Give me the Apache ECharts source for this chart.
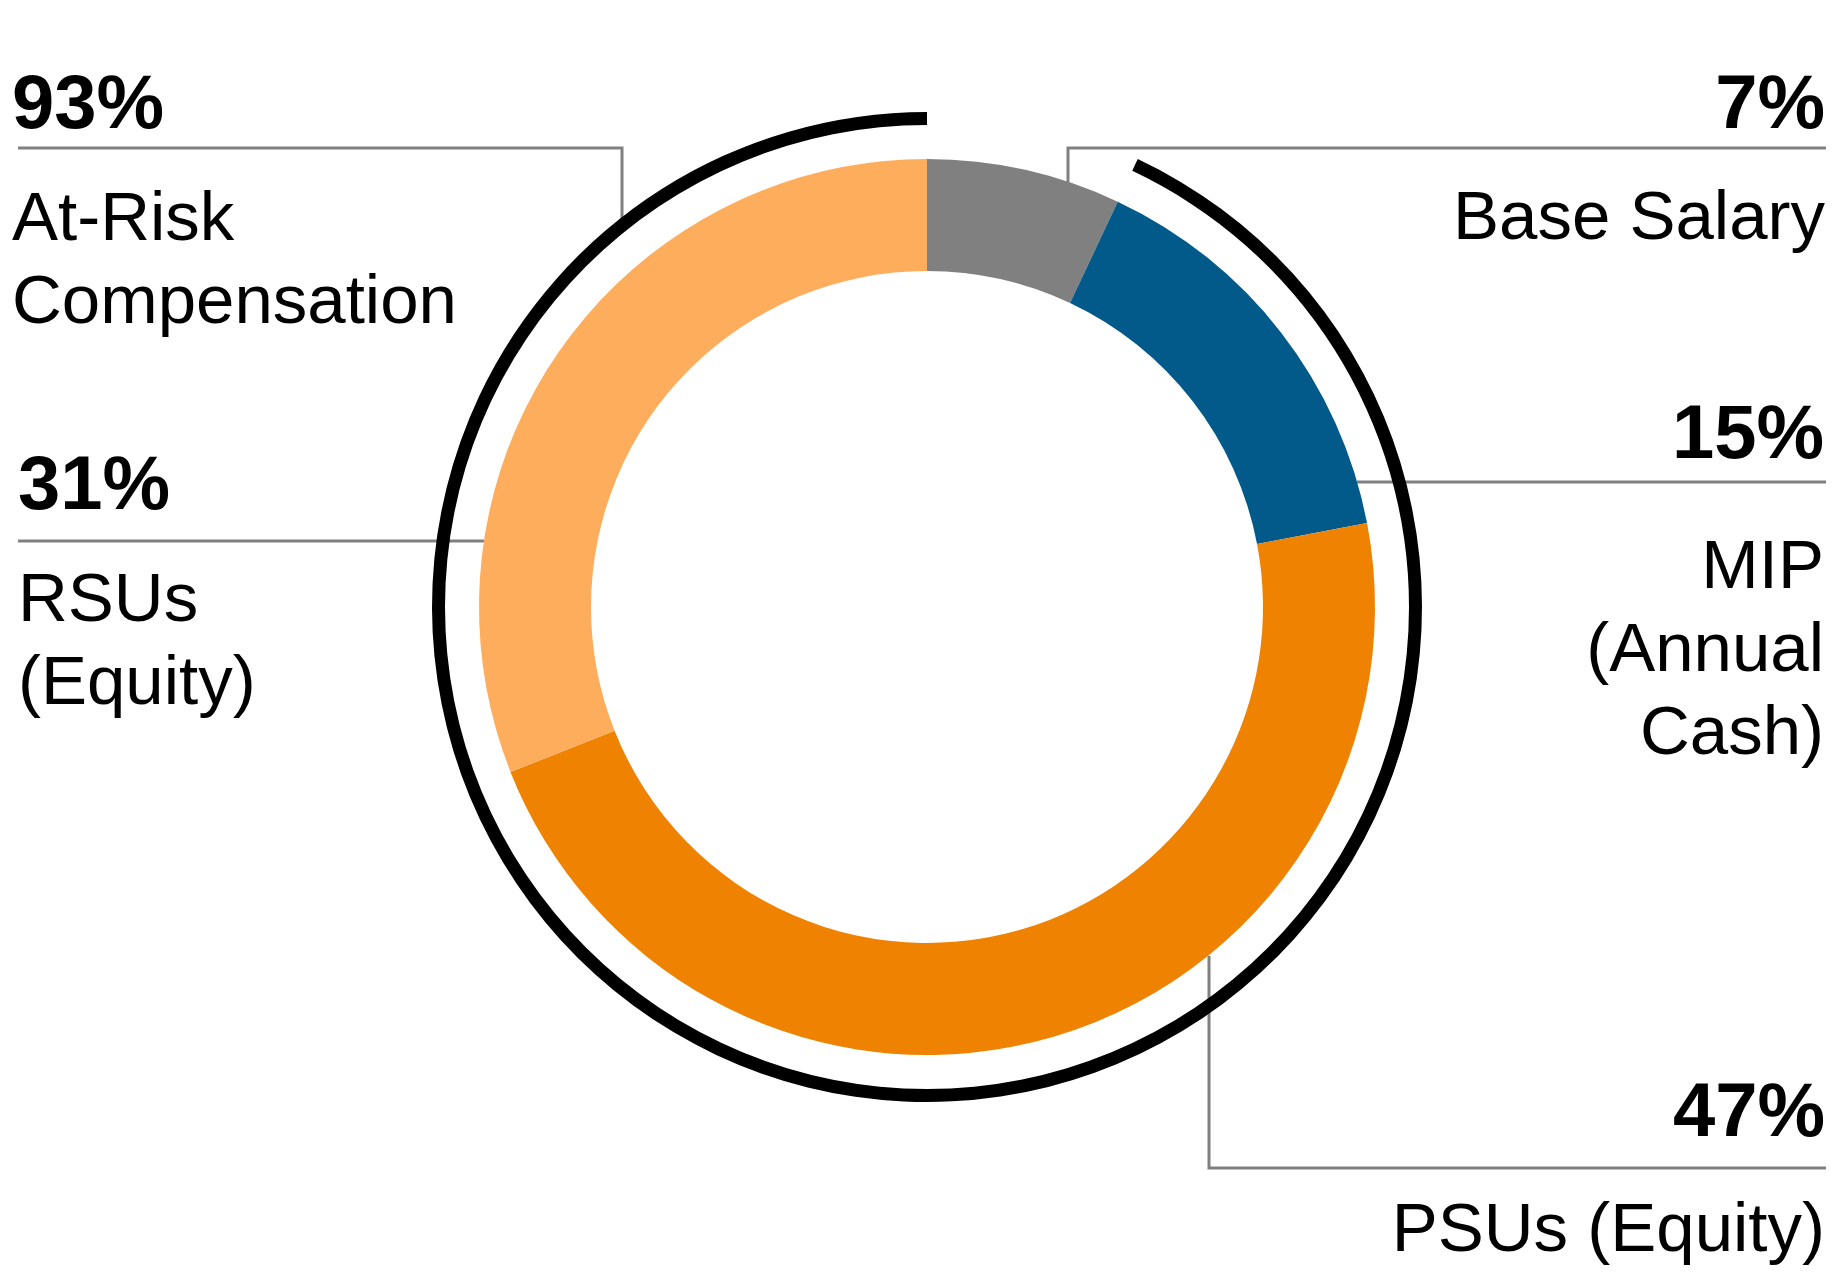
<!DOCTYPE html>
<html><head><meta charset="utf-8">
<script src="https://cdn.jsdelivr.net/npm/echarts@6/dist/echarts.min.js"></script>
<style>html,body{margin:0;padding:0;background:#fff}#chart{width:1840px;height:1275px}</style>
</head><body><div id="chart"></div>
<script>
// ---- data ----
const categories = ['Base Salary', 'MIP (Annual Cash)', 'PSUs (Equity)', 'RSUs (Equity)'];
const categoryLabels = ['Base Salary', 'MIP\n(Annual\nCash)', 'PSUs (Equity)', 'RSUs\n(Equity)'];
const values = [7, 15, 47, 31];
const colors = ['#808080', '#015A8A', '#EF8200', '#FDAD5C'];
const groupName = 'At-Risk Compensation';
const groupLabel = 'At-Risk\nCompensation';
const groupValue = 93;   // MIP + PSUs + RSUs
const fixedValue = 7;    // Base Salary (not at risk)

// ---- layout (positions/styles) ----
const CX = 927, CY = 607;
const FONT = "'Liberation Sans', Arial, sans-serif";
const PF = 76, NF = 69, NLH = 83;
const lineColor = '#808080';
const sliceLayouts = [
  {align: 'right', x: 1825, base: 133, gap: 111, pts: [[1068, 182], [1068, 148], [1826, 148]]},
  {align: 'right', x: 1824, base: 463, gap: 130, pts: [[1357, 482], [1357, 482], [1826, 482]]},
  {align: 'right', x: 1825, base: 1141, gap: 115, pts: [[1209, 956], [1209, 1168], [1826, 1168]]},
  {align: 'left',  x: 18,   base: 514, gap: 112, pts: [[484, 541], [484, 541], [18, 541]]}
];
const groupLayout = {align: 'left', x: 12, base: 133, gap: 112, pts: [[622, 220], [622, 148], [18, 148]]};

function pLineHeight(l) { return 2 * (l.gap - NLH / 2 - 0.3465 * NF + 0.3465 * PF) ; }
function topY(l) { return l.base - pLineHeight(l) / 2 - 0.3465 * PF; }

const rich = {
  nL: {fontFamily: FONT, fontSize: NF, lineHeight: NLH, color: '#000', align: 'left'},
  nR: {fontFamily: FONT, fontSize: NF, lineHeight: NLH, color: '#000', align: 'right'}
};
sliceLayouts.forEach((l, i) => {
  rich['p' + i] = {fontFamily: FONT, fontSize: PF, fontWeight: 'bold', lineHeight: pLineHeight(l), color: '#000', align: l.align};
});
rich.pg = {fontFamily: FONT, fontSize: PF, fontWeight: 'bold', lineHeight: pLineHeight(groupLayout), color: '#000', align: groupLayout.align};

function makeLabel(pKey, value, text, align) {
  const n = align === 'right' ? 'nR' : 'nL';
  return '{' + pKey + '|' + value + '%}\n' + text.split('\n').map(t => '{' + n + '|' + t + '}').join('\n');
}

const sliceData = categories.map((c, i) => ({
  name: c, value: values[i], itemStyle: {color: colors[i]},
  label: {formatter: makeLabel('p' + i, values[i], categoryLabels[i], sliceLayouts[i].align)}
}));

const ringData = [
  {name: categories[0], value: fixedValue, itemStyle: {color: 'rgba(0,0,0,0)'}, label: {show: false}, labelLine: {show: false}},
  {name: groupName, value: groupValue, itemStyle: {color: '#000'},
   label: {formatter: makeLabel('pg', groupValue, groupLabel, groupLayout.align)}}
];

function layoutFor(l) {
  return {x: l.x, y: topY(l), align: l.align, verticalAlign: 'top', labelLinePoints: l.pts};
}

const baseLabel = {show: true, position: 'outside', alignTo: 'none', rich: rich, fontFamily: FONT};
const baseLine = {show: true, smooth: false, length: 10, length2: 10, lineStyle: {color: lineColor, width: 3}};

const option = {
  animation: false,
  tooltip: {show: false},
  series: [
    {
      type: 'pie', name: 'Compensation Mix', center: [CX, CY], radius: [336, 448],
      startAngle: 90, clockwise: true, avoidLabelOverlap: false, silent: true,
      itemStyle: {borderWidth: 0}, emphasis: {disabled: true},
      label: baseLabel, labelLine: baseLine,
      labelLayout: p => layoutFor(sliceLayouts[p.dataIndex]),
      data: sliceData
    },
    {
      type: 'pie', name: 'At-Risk', center: [CX, CY], radius: [482, 495],
      startAngle: 90, clockwise: true, avoidLabelOverlap: false, silent: true,
      itemStyle: {borderWidth: 0}, emphasis: {disabled: true},
      label: baseLabel, labelLine: baseLine,
      labelLayout: p => (p.dataIndex === 1 ? layoutFor(groupLayout) : {}),
      data: ringData
    }
  ]
};
const chart = echarts.init(document.getElementById('chart'), null, {renderer: 'canvas'});
chart.setOption(option);
</script></body></html>
